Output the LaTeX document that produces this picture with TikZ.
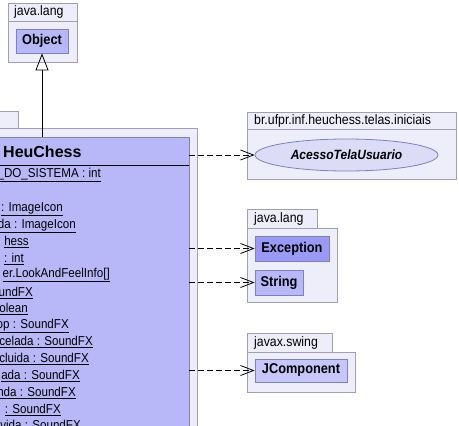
\documentclass[tikz,border=0pt]{standalone}
\usepackage{fontspec}
\setmainfont{Liberation Sans}
\newfontfamily\narrowsf[FakeStretch=0.9]{Liberation Sans}
\usetikzlibrary{arrows.meta,shapes.geometric}
\definecolor{pkgfill}{RGB}{238,238,250}
\definecolor{pkgdraw}{RGB}{160,160,178}
\definecolor{clsfill}{RGB}{184,184,248}
\definecolor{clsdark}{RGB}{154,154,246}
\definecolor{clslight}{RGB}{198,198,248}
\definecolor{clsdraw}{RGB}{128,128,192}
\definecolor{ellfill}{RGB}{220,220,246}
\tikzset{
  pkg/.style={draw=pkgdraw, fill=pkgfill, line width=0.8pt},
  pkglabel/.style={anchor=west, inner sep=0pt, font=\narrowsf\fontsize{13.7}{13}\selectfont},
  cls/.style={draw=clsdraw, fill=clsfill, line width=0.8pt, inner sep=0pt,
    font=\narrowsf\fontsize{14.2}{14}\selectfont\bfseries},
  attr/.style={anchor=east, inner sep=0pt, font=\narrowsf\fontsize{12.9}{13}\selectfont},
  dep/.style={dashed, dash pattern=on 6pt off 3pt, line width=0.8pt,
    -{Straight Barb[length=13pt,width=10pt,line width=0.8pt]}},
  inh/.style={line width=0.8pt, -{Triangle[open,length=17pt,width=13pt,line width=0.8pt]}}
}
\begin{document}
\begin{tikzpicture}[x=1pt,y=-1pt]
\useasboundingbox (0,0) rectangle (459,426);
\clip (0,0) rectangle (459,426);
% top java.lang package
\draw[pkg] (8,3) rectangle (77,62);
\draw[pkgdraw, line width=0.8pt] (8,21) -- (77,21);
\node[pkglabel] (pkgA) at (14,12) {java.lang};
\node[cls, minimum width=52pt, minimum height=24pt] (obj) at (42,41) {Object};
% big package with HeuChess
\draw[pkg] (-40,111) rectangle (18,128);
\draw[pkg] (-40,128) rectangle (197,440);
\node[draw=clsdraw, fill=clsfill, line width=0.8pt, inner sep=0pt,
  minimum width=249pt, minimum height=303pt] (heu) at (64.5,288.5) {};
\draw[line width=0.8pt] (heu.west |- 0,165) -- (heu.east |- 0,165);
\node[anchor=west, inner sep=0pt, font=\fontsize{16}{16}\selectfont\bfseries] (title) at (3,152) {HeuChess};
\node[attr] (a1) at (101,175) {\underline{\_DO\_SISTEMA : int}};
\node[attr] (a2) at (63,209) {\underline{: ImageIcon}};
\node[attr] (a3) at (76,226) {\underline{da : ImageIcon}};
\node[attr] (a4) at (29,242) {\underline{hess}};
\node[attr] (a5) at (24,259) {\underline{: int}};
\node[attr] (a6) at (110,275) {\underline{er.LookAndFeelInfo[]}};
\node[attr] (a7) at (33,293) {\underline{undFX}};
\node[attr] (a8) at (28,309) {\underline{olean}};
\node[attr] (a9) at (69,326) {\underline{op : SoundFX}};
\node[attr] (a10) at (93,342) {\underline{celada : SoundFX}};
\node[attr] (a11) at (89,359) {\underline{cluida : SoundFX}};
\node[attr] (a12) at (80,376) {\underline{ada : SoundFX}};
\node[attr] (a13) at (76,393) {\underline{nda : SoundFX}};
\node[attr] (a14) at (61,410) {\underline{: SoundFX}};
\node[attr] (a15) at (81,426) {\underline{vida : SoundFX}};
% br.ufpr package
\draw[pkg] (247,112) rectangle (456,179);
\draw[pkgdraw, line width=0.8pt] (247,129) -- (456,129);
\node[pkglabel] (pkgB) at (254,121) {br.ufpr.inf.heuchess.telas.iniciais};
\node[ellipse, draw=clsdraw, fill=ellfill, line width=0.8pt, inner sep=0pt,
  minimum width=183pt, minimum height=32pt,
  font=\narrowsf\fontsize{13.4}{13}\selectfont\bfseries\itshape] (ace) at (346.5,155) {AcessoTelaUsuario};
% middle java.lang package
\draw[pkg] (247,209) rectangle (317,228);
\draw[pkg] (247,228) rectangle (337,302);
\node[pkglabel] (pkgC) at (254,219) {java.lang};
\node[cls, fill=clsdark, minimum width=74pt, minimum height=25pt] (exc) at (292,248.5) {Exception};
\node[cls, minimum width=48pt, minimum height=25pt] (str) at (279,282.5) {String};
% javax.swing package
\draw[pkg] (247,333) rectangle (332,352);
\draw[pkg] (247,352) rectangle (355,392);
\node[pkglabel] (pkgD) at (254,343) {javax.swing};
\node[cls, fill=clslight, minimum width=92pt, minimum height=23pt] (jc) at (301,370.5) {JComponent};
% connectors
\draw[inh] (obj.south |- heu.north) -- (obj.south);
\draw[dep] (ace.west -| heu.east) -- (ace.west);
\draw[dep] (exc.west -| heu.east) -- (exc.west);
\draw[dep] (str.west -| heu.east) -- (str.west);
\draw[dep] (jc.west -| heu.east) -- (jc.west);
\end{tikzpicture}
\end{document}
